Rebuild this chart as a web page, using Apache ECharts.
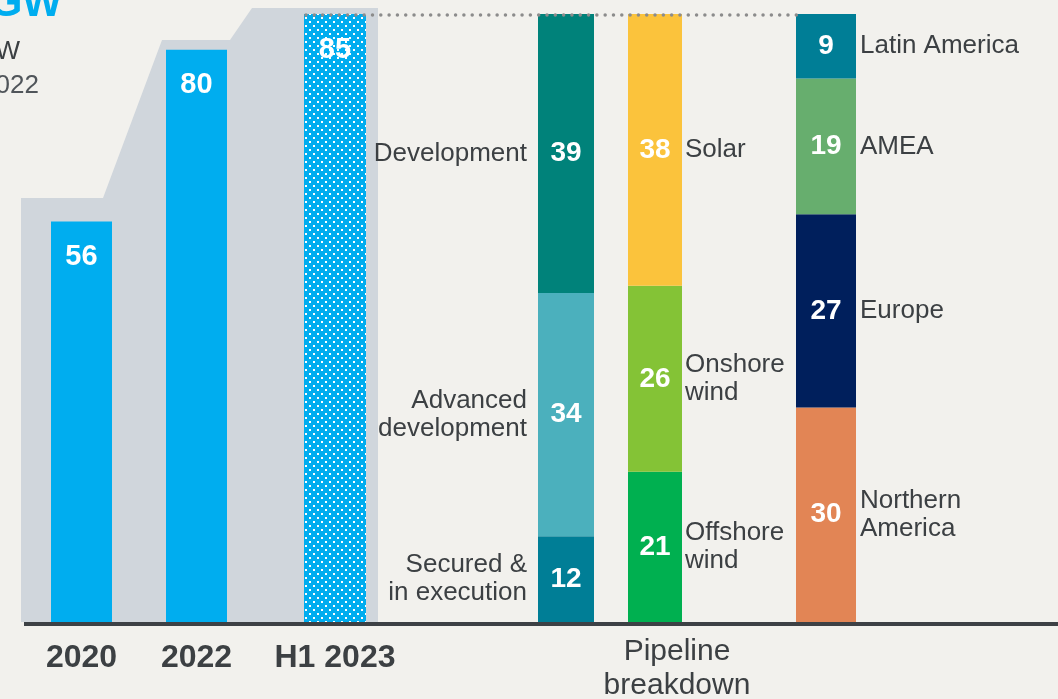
<!DOCTYPE html>
<html>
<head>
<meta charset="utf-8">
<script src="https://cdn.jsdelivr.net/npm/echarts@6/dist/echarts.min.js"></script>
<style>
html,body{margin:0;padding:0;background:#f2f1ed;}
#chart{width:1058px;height:699px;}
</style>
</head>
<body>
<div id="chart"></div>
<script>
// ---- data ----
const historyCats = ['2020', '2022', 'H1 2023'];
const historyValues = [56, 80, 85];
const stageNames = ['Secured &\nin execution', 'Advanced\ndevelopment', 'Development'];
const stageValues = [12, 34, 39];
const techNames = ['Offshore\nwind', 'Onshore\nwind', 'Solar'];
const techValues = [21, 26, 38];
const regionNames = ['Northern\nAmerica', 'Europe', 'AMEA', 'Latin America'];
const regionValues = [30, 27, 19, 9];
const breakdownTitle = 'Pipeline\nbreakdown';
const headerTexts = ['GW', 'W', '022'];

// ---- styles ----
const BLUE = '#00adef';
const TXT = '#3c4043';
const FONT = '"Liberation Sans", Arial, sans-serif';
const stageColors = ['#007e96', '#4bb0bd', '#00827a'];
const techColors = ['#00b050', '#84c336', '#fbc33c'];
const regionColors = ['#e28555', '#001f5c', '#67ae6e', '#007e96'];

// dotted pattern for H1 2023
const pc = document.createElement('canvas');
pc.width = 8; pc.height = 8;
const pctx = pc.getContext('2d');
pctx.fillStyle = BLUE; pctx.fillRect(0, 0, 8, 8);
pctx.fillStyle = '#ffffff';
pctx.fillRect(1, 1, 2, 2);
pctx.fillRect(5, 5, 2, 2);

const chart = echarts.init(document.getElementById('chart'), null, {renderer: 'canvas'});

const TOP = 14, BOTTOM = 77;
const gridDefs = [
  {left: 51, width: 61},
  {left: 166, width: 61},
  {left: 304, width: 62},
  {left: 538, width: 56},
  {left: 628, width: 54},
  {left: 796, width: 60}
];
const grids = gridDefs.map(g => ({left: g.left, width: g.width, top: TOP, bottom: BOTTOM, containLabel: false}));

const xAxes = gridDefs.map((g, i) => ({
  type: 'category', gridIndex: i,
  data: i < 3 ? [historyCats[i]] : [''],
  show: i < 3,
  axisLine: {show: false}, axisTick: {show: false}, splitLine: {show: false},
  axisLabel: {show: i < 3, margin: 20, fontSize: 32, fontWeight: 'bold', color: TXT, fontFamily: FONT}
}));
const yAxes = gridDefs.map((g, i) => ({
  type: 'value', gridIndex: i, min: 0, max: 85, show: false
}));

const valueLabel = {
  show: true, position: 'inside', color: '#ffffff', fontSize: 28, fontWeight: 'bold', fontFamily: FONT
};

const series = [];
historyValues.forEach((v, i) => {
  series.push({
    type: 'bar', xAxisIndex: i, yAxisIndex: i, barWidth: '100%',
    data: [v],
    itemStyle: {color: i === 2 ? {image: pc, repeat: 'repeat'} : BLUE},
    label: {show: true, position: 'insideTop', distance: 21, color: '#ffffff', fontSize: 29, fontWeight: 'bold', fontFamily: FONT},
    z: 3
  });
});

function addStack(gi, names, values, colors, side, dist) {
  values.forEach((v, k) => {
    series.push({
      type: 'bar', xAxisIndex: gi, yAxisIndex: gi, stack: 's' + gi, barWidth: '100%', barGap: '-100%',
      name: names[k], data: [v],
      itemStyle: {color: colors[k]},
      label: valueLabel, z: 3
    });
  });
  values.forEach((v, k) => {
    series.push({
      type: 'bar', xAxisIndex: gi, yAxisIndex: gi, stack: 'l' + gi, barWidth: '100%', barGap: '-100%',
      data: [v],
      itemStyle: {color: 'rgba(0,0,0,0)'},
      label: {
        show: true, position: side, distance: dist, formatter: () => names[k],
        color: TXT, fontSize: 26, lineHeight: 28, fontFamily: FONT,
        align: side === 'left' ? 'right' : 'left'
      },
      z: 4, silent: true
    });
  });
}
addStack(3, stageNames, stageValues, stageColors, 'left', 11);
addStack(4, techNames, techValues, techColors, 'right', 3);
addStack(5, regionNames, regionValues, regionColors, 'right', 4);

const graphic = [
  {type: 'polygon', z: 0, shape: {points: [[21, 622], [21, 198], [103, 198], [162, 40], [230, 40], [252, 8], [378, 8], [378, 622]]},
   style: {fill: '#d0d6dc'}},
  {type: 'line', z: 10, shape: {x1: 24, y1: 624, x2: 1058, y2: 624}, style: {stroke: '#3d4145', lineWidth: 4}},
  {type: 'line', z: 10, shape: {x1: 306, y1: 15, x2: 797, y2: 15},
   style: {stroke: '#8c8c8c', lineWidth: 3.5, lineDash: [0.01, 8.3], lineCap: 'round'}},
  {type: 'text', z: 10, x: 677, y: 669, style: {text: breakdownTitle, fill: TXT, font: '30px ' + FONT, lineHeight: 34, textAlign: 'center', textVerticalAlign: 'middle'}},
  {type: 'text', z: 10, x: 62, y: 4, style: {text: headerTexts[0], fill: BLUE, font: 'bold 42px ' + FONT, textAlign: 'right', textVerticalAlign: 'middle'}},
  {type: 'text', z: 10, x: 20, y: 52, style: {text: headerTexts[1], fill: TXT, font: '26px ' + FONT, textAlign: 'right', textVerticalAlign: 'middle'}},
  {type: 'text', z: 10, x: 39, y: 86, style: {text: headerTexts[2], fill: '#50555a', font: '26px ' + FONT, textAlign: 'right', textVerticalAlign: 'middle'}}
];

chart.setOption({
  backgroundColor: '#f2f1ed',
  animation: false,
  grid: grids,
  xAxis: xAxes,
  yAxis: yAxes,
  series: series,
  graphic: graphic
});
</script>
</body>
</html>
